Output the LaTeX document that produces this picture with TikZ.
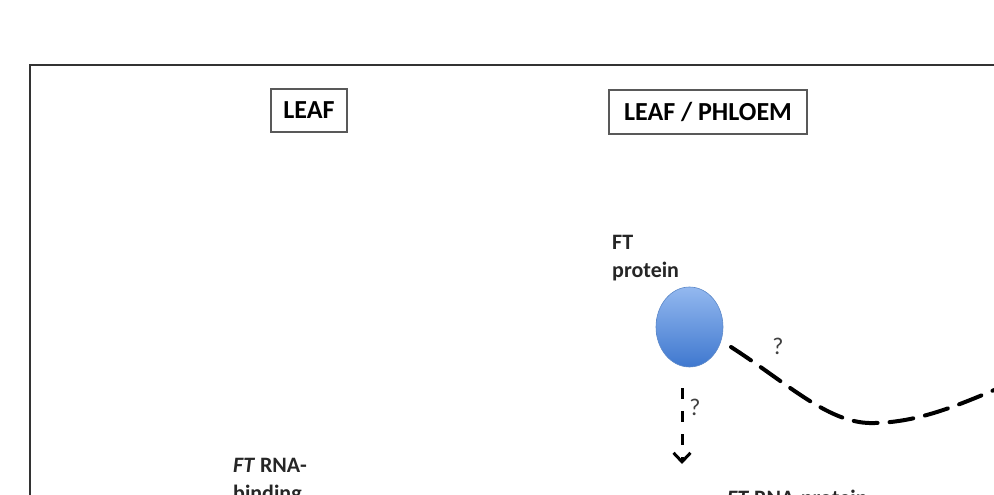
\documentclass[tikz,border=0pt]{standalone}
\usepackage{fontspec}
\setmainfont{Carlito}
\usepackage{tikz}
\usetikzlibrary{shapes.geometric, positioning, arrows.meta}

\definecolor{ftlight}{HTML}{93B8EF}
\definecolor{ftdark}{HTML}{3F78CF}
\definecolor{ftedge}{HTML}{5C88C8}

\tikzset{
  tissuebox/.style={draw=black!65, line width=1.3pt, inner sep=0pt,
    font=\fontsize{26}{30}\selectfont\bfseries},
  molname/.style={anchor=base west, inner sep=0pt, align=left,
    font=\fontsize{22}{28}\selectfont\bfseries, text=black!85},
  qmark/.style={inner sep=0pt, font=\fontsize{24}{28}\selectfont, text=black!75},
  moveline/.style={line width=4pt, dash pattern=on 24pt off 12pt, line cap=round},
  qarrow/.style={line width=3pt, dash pattern=on 11pt off 12pt,
    -{Straight Barb[length=9pt, width=17pt, line width=3pt]}}
}

\begin{document}
\begin{tikzpicture}[x=1pt, y=-1pt]
    \useasboundingbox (0,0) rectangle (994,495);
    \clip (0,0) rectangle (994,495);

    % 1. Outer frame (runs past the right and bottom edges)
    \draw[black!80, line width=1.5pt] (30,65) rectangle (1030,540);

    % 2. Tissue headers
    \node[tissuebox, minimum width=76pt, minimum height=43pt] (leaf) at (309,110.5) {LEAF};
    \node[tissuebox, minimum width=198pt, minimum height=44pt] (phloem) at (708,112) {LEAF / PHLOEM};

    % 3. FT protein and its ball
    % (base anchor sits on the last line)
    \node[molname] (ftlabel) at (612,277) {FT\\protein};
    \node[ellipse, minimum width=67pt, minimum height=80pt, inner sep=0pt,
          top color=ftlight, bottom color=ftdark, draw=ftedge, line width=0.6pt] (ftp) at (689.5,327) {};

    % 4. Long-distance movement (dashed curve)
    \coordinate (curvestart) at (731,347);
    \coordinate (curveend) at (1015,381);
    \draw[moveline] (curvestart) .. controls (790,385) and (830,425) .. (875,423)
                    .. controls (920,422) and (960,405) .. (curveend);
    \node[qmark] (qcurve) at (778,346) {?};

    % 5. Downward link to the RNA-protein complex
    \coordinate (arrowend) at (682,464);
    \draw[qarrow] ([yshift=-21pt]ftp.south -| arrowend) -- (arrowend);
    \node[qmark] (qdown) at (695,407) {?};

    % 6. RNA labels (cut by the lower edge)
    \node[molname] (rnabind) at (233,500) {\textit{FT} RNA-\\binding};
    \node[molname] (rnacomplex) at (727,505) {\textit{FT} RNA-protein};

\end{tikzpicture}
\end{document}
